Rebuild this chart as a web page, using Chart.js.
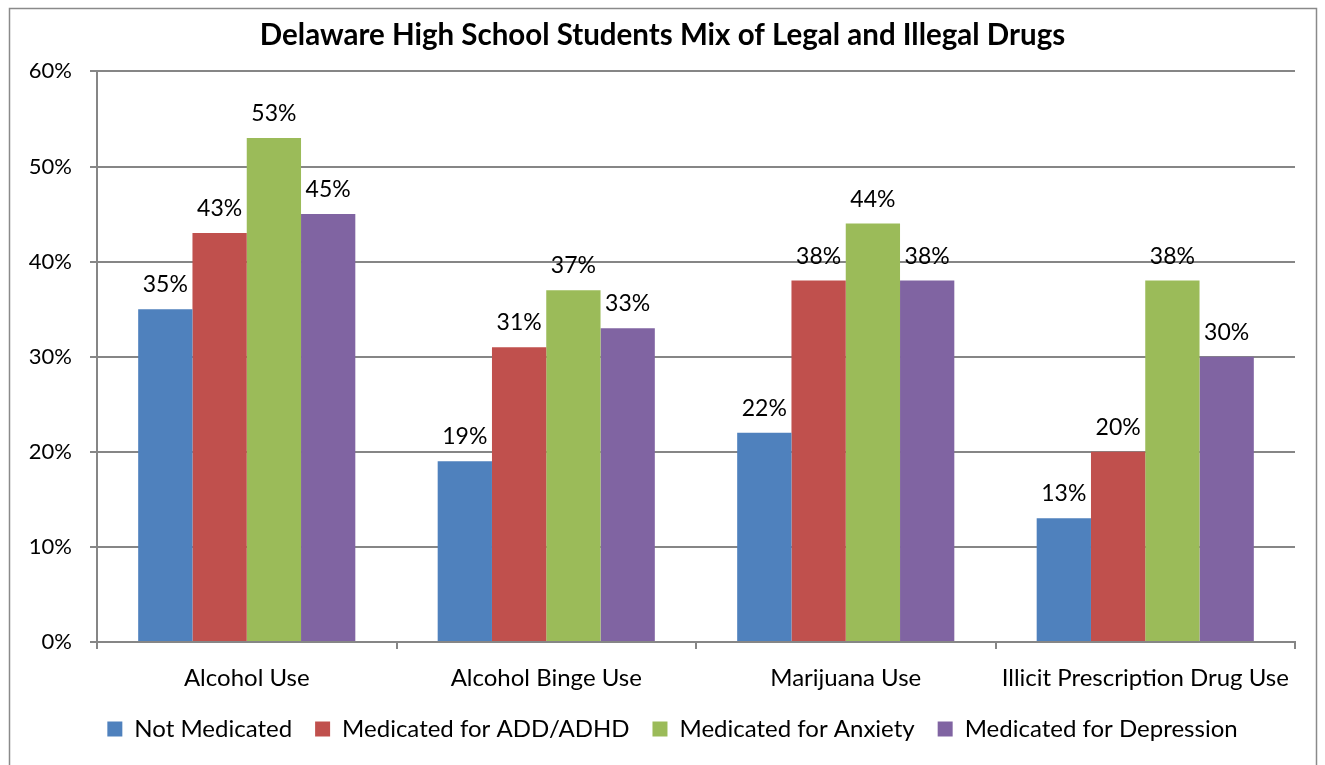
<!DOCTYPE html>
<html>
<head>
<meta charset="utf-8">
<script src="https://cdn.jsdelivr.net/npm/chart.js@4/dist/chart.umd.min.js"></script>
<style>
  html, body { margin: 0; padding: 0; background: #fff; }
  #wrap { width: 1325px; height: 765px; position: relative; }
</style>
</head>
<body>
<div id="wrap"><canvas id="drugChart" width="1325" height="765"></canvas></div>
<script>
const categories = ["Alcohol Use", "Alcohol Binge Use", "Marijuana Use", "Illicit Prescription Drug Use"];
const notMedicated = [35, 19, 22, 13];
const medADHD = [43, 31, 38, 20];
const medAnxiety = [53, 37, 44, 38];
const medDepression = [45, 33, 38, 30];
const seriesNames = ["Not Medicated", "Medicated for ADD/ADHD", "Medicated for Anxiety", "Medicated for Depression"];
const yTicks = [0, 10, 20, 30, 40, 50, 60];

const FONT = "Lato, 'Open Sans', sans-serif";

// value labels above each bar
const barLabels = {
    id: 'barLabels',
    afterDatasetsDraw(chart) {
        const ctx = chart.ctx;
        ctx.save();
        ctx.font = "23px " + FONT;
        ctx.fillStyle = "#000";
        ctx.textAlign = "center";
        ctx.textBaseline = "alphabetic";
        chart.data.datasets.forEach((ds, i) => {
            chart.getDatasetMeta(i).data.forEach((bar, j) => {
                ctx.fillText(ds.data[j] + "%", bar.x, bar.y - 17);
            });
        });
        ctx.restore();
    }
};

// outer chart frame, and nudge title/legend a bit right like the original
const frame = {
    id: 'frame',
    beforeDraw(chart) {
        const ctx = chart.ctx;
        ctx.save();
        ctx.strokeStyle = "#8a8a8a";
        ctx.lineWidth = 1.5;
        ctx.strokeRect(9.5, 8.5, 1307, 800);
        ctx.restore();
        if (!chart._nudged) {
            chart.legend.left += 20; chart.legend.right += 20;
            chart.titleBlock.left += 10; chart.titleBlock.right += 10;
            chart._nudged = true;
        }
    }
};

const colors = ["#4F81BD", "#C0504D", "#9BBB59", "#8064A2"];
const seriesData = [notMedicated, medADHD, medAnxiety, medDepression];

new Chart(document.getElementById("drugChart"), {
    type: 'bar',
    data: {
        labels: categories,
        datasets: seriesNames.map((name, i) => ({
            label: name,
            data: seriesData[i],
            backgroundColor: colors[i],
            borderWidth: 0,
            barPercentage: 1.0,
            categoryPercentage: 0.725
        }))
    },
    options: {
        responsive: false,
        animation: false,
        layout: { padding: { left: 10, right: 30, top: 14, bottom: 14 } },
        plugins: {
            title: {
                display: true,
                text: "Delaware High School Students Mix of Legal and Illegal Drugs",
                color: "#000",
                font: { family: FONT, size: 29.5, weight: 'bold' },
                padding: { top: 4, bottom: 18 }
            },
            legend: {
                position: 'bottom',
                labels: {
                    color: "#000",
                    font: { family: FONT, size: 24 },
                    boxWidth: 15,
                    boxHeight: 15,
                    padding: 23
                }
            },
            tooltip: { enabled: false }
        },
        scales: {
            x: {
                grid: {
                    display: true,
                    drawOnChartArea: false,
                    drawTicks: true,
                    tickLength: 7,
                    color: "#868686",
                    lineWidth: 2,
                    offset: true
                },
                border: { color: "#868686", width: 2 },
                ticks: { color: "#000", font: { family: FONT, size: 24 }, padding: 15 },
                afterFit(scale) { scale.height = 52; }
            },
            y: {
                min: 0,
                max: 60,
                afterBuildTicks(scale) { scale.ticks = yTicks.map(v => ({ value: v })); },
                grid: { color: "#868686", lineWidth: 2, tickLength: 7 },
                border: { color: "#868686", width: 2 },
                ticks: {
                    color: "#000",
                    font: { family: FONT, size: 22 },
                    padding: 18,
                    callback: v => v + "%"
                },
                afterFit(scale) { scale.width = 87; }
            }
        }
    },
    plugins: [barLabels, frame]
});
</script>
</body>
</html>
